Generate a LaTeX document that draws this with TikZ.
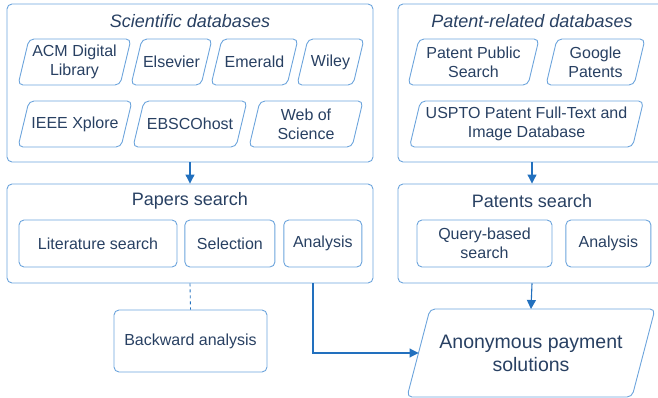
\documentclass[tikz,border=0pt]{standalone}
\usepackage{fontspec}
\setmainfont{Liberation Sans}
\usetikzlibrary{positioning,arrows.meta}

\definecolor{boxblue}{RGB}{108,164,220}
\definecolor{lineblue}{RGB}{34,112,190}
\definecolor{textblue}{RGB}{40,64,98}

\begin{document}
\begin{tikzpicture}[
  x=1pt, y=-1pt,
  font=\fontsize{16}{19}\selectfont,
  text=textblue,
  >={Triangle[length=9pt,width=9pt]},
  node distance = 10pt and 10pt,
  %% Box styles
  group/.style   = {draw=boxblue, line width=0.9pt, rounded corners=5pt,
                    inner sep=0pt},
  grptitle/.style= {font=\fontsize{18}{21}\selectfont},
  dbbox/.style   = {minimum height=46pt, align=center, inner sep=1pt,
                    outer sep=0pt},
  stepbox/.style = {draw=boxblue, line width=0.9pt, rounded corners=5pt,
                    minimum height=47pt, align=center, inner sep=2pt},
  resultbox/.style = {minimum width=225pt, minimum height=88pt,
                    align=center, inner sep=2pt, outer sep=0pt,
                    font=\fontsize{19.5}{23}\selectfont},
  slant/.style   = {draw=boxblue, line width=0.9pt, rounded corners=5pt},
  arr/.style     = {->, draw=lineblue, line width=1.1pt},
  darr/.style    = {draw=lineblue, line width=0.9pt, dashed},
]

\clip (0,0) rectangle (658,398);

%% ── Row 0: Databases ───────────────────────────────────────────
\node[group, minimum width=366pt, minimum height=158pt] (sci) at (190,83) {};
\node[grptitle] (scit) at (190,21) {\textit{Scientific databases}};

\node[dbbox, minimum width=102pt] (acm) at (74.5,62) {ACM Digital\\Library};
\node[dbbox, minimum width=70pt] (els) at (171.5,62) {Elsevier};
\node[dbbox, minimum width=76pt] (eme) at (254.5,62) {Emerald};
\node[dbbox, minimum width=56pt] (wil) at (330.5,62) {Wiley};

\node[dbbox, minimum width=103pt] (ieee) at (75,124) {IEEE Xplore};
\node[dbbox, minimum width=103pt] (ebsco) at (190,124) {EBSCOhost};
\node[dbbox, minimum width=103pt] (wos) at (306,124) {Web of\\Science};

\node[group, minimum width=268pt, minimum height=158pt] (pat) at (532,83) {};
\node[grptitle] (patt) at (532,21) {\textit{Patent-related databases}};

\node[dbbox, minimum width=120pt] (pps) at (473.5,62) {Patent Public\\Search};
\node[dbbox, minimum width=88pt] (goo) at (595.5,62) {Google\\Patents};
\node[dbbox, minimum width=223pt] (uspto) at (526.5,124)
  {USPTO Patent Full-Text and\\Image Database};

% slanted outlines of the database boxes
\foreach \db in {acm,els,eme,wil,ieee,ebsco,wos,pps,goo,uspto}
  \draw[slant] ([xshift=-5.5pt]\db.south west) -- ([xshift=5.5pt]\db.north west)
    -- ([xshift=5.5pt]\db.north east) -- ([xshift=-5.5pt]\db.south east) -- cycle;

%% ── Row 1: Search stages ───────────────────────────────────────
\node[group, minimum width=366pt, minimum height=99pt] (papers) at (190,233.5) {};
\node[grptitle] (paperst) at (190,201) {Papers search};

\node[stepbox, minimum width=158pt] (lit) at (98,243.5) {Literature search};
\node[stepbox, minimum width=90pt, right=7pt of lit] (sel) {Selection};
\node[stepbox, minimum width=78pt, right=8pt of sel] (ana) {Analysis};

\node[group, minimum width=268pt, minimum height=99pt] (pats) at (532,233.5) {};
\node[grptitle] (patst) at (532,201) {Patents search};

\node[stepbox, minimum width=135pt] (qry) at (484.5,243.5) {Query-based\\search};
\node[stepbox, minimum width=85pt, right=13pt of qry] (pana) {Analysis};

%% ── Row 2: Outcomes ────────────────────────────────────────────
\node[stepbox, minimum width=153pt, minimum height=62pt] (back) at (190.5,341)
  {Backward analysis};
\node[resultbox] (res) at (531,353) {Anonymous payment\\solutions};
\draw[slant] ([xshift=-11.5pt]res.south west) -- ([xshift=11.5pt]res.north west)
  -- ([xshift=11.5pt]res.north east) -- ([xshift=-11.5pt]res.south east) -- cycle;

%% ── Arrows ─────────────────────────────────────────────────────
\coordinate (elbow) at (313,352);
\draw[arr] (sci.south) -- (papers.north);
\draw[arr] (pat.south) -- (pats.north);
\draw[darr] (papers.south) -- (back.north);
\draw[arr] (papers.south -| elbow) |- (res.west);
\draw[arr] (pats.south) -- (res.north);

\end{tikzpicture}
\end{document}
